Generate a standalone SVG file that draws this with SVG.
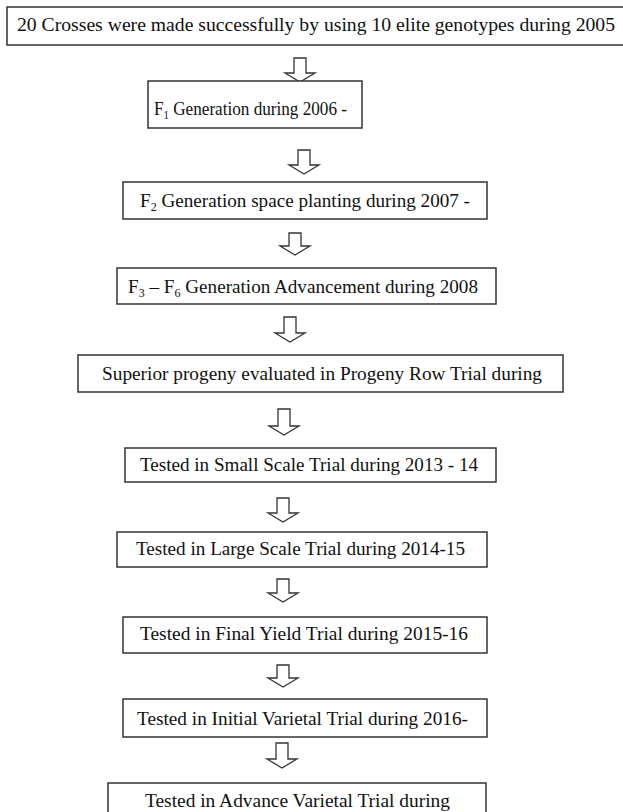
<svg xmlns="http://www.w3.org/2000/svg" width="623" height="812" viewBox="0 0 623 812">
<style>
.box{fill:#fff;stroke:#333;stroke-width:1.5}
.arr{fill:#fff;stroke:#333;stroke-width:1.3;stroke-linejoin:miter}
.t{font-family:"Liberation Serif","Times New Roman",serif;font-size:19px;fill:#111}
.sub{font-size:12px}
</style>
<rect width="623" height="812" fill="#fff"/>
<g id="connectors">
<path class="arr" d="M294,58 H306 V73 H315 L300,82 L285,73 H294 Z"/>
<path class="arr" d="M298,150 H310 V165 H319 L304,174 L289,165 H298 Z"/>
<path class="arr" d="M289,233 H301 V246 H310 L295,255 L280,246 H289 Z"/>
<path class="arr" d="M284,317 H296 V333 H305 L290,342 L275,333 H284 Z"/>
<path class="arr" d="M278,409 H290 V426 H299 L284,435 L269,426 H278 Z"/>
<path class="arr" d="M277,498 H289 V513 H298 L283,522 L268,513 H277 Z"/>
<path class="arr" d="M277,579 H289 V593 H298 L283,602 L268,593 H277 Z"/>
<path class="arr" d="M277,665 H289 V678 H298 L283,687 L268,678 H277 Z"/>
<path class="arr" d="M276,743 H288 V759 H297 L282,768 L267,759 H276 Z"/>
</g>
<g id="n1">
<rect class="box" x="7" y="7" width="630" height="38"/>
<text class="t" x="17" y="31" textLength="598" lengthAdjust="spacingAndGlyphs">20 Crosses were made successfully by using 10 elite genotypes during 2005</text>
</g>
<g id="n2">
<rect class="box" x="148" y="81" width="214" height="47"/>
<text class="t" x="154" y="115" textLength="193" lengthAdjust="spacingAndGlyphs">F<tspan class="sub" dy="4">1</tspan><tspan dy="-4"> Generation during 2006 -</tspan></text>
</g>
<g id="n3">
<rect class="box" x="123" y="182" width="364" height="37"/>
<text class="t" x="140" y="207" textLength="330" lengthAdjust="spacingAndGlyphs">F<tspan class="sub" dy="4">2</tspan><tspan dy="-4"> Generation space planting during 2007 -</tspan></text>
</g>
<g id="n4">
<rect class="box" x="117" y="268" width="379" height="36"/>
<text class="t" x="128" y="293" textLength="350" lengthAdjust="spacingAndGlyphs">F<tspan class="sub" dy="4">3</tspan><tspan dy="-4"> – F</tspan><tspan class="sub" dy="4">6</tspan><tspan dy="-4"> Generation Advancement during 2008</tspan></text>
</g>
<g id="n5">
<rect class="box" x="78" y="355" width="485" height="37"/>
<text class="t" x="102" y="380" textLength="440" lengthAdjust="spacingAndGlyphs">Superior progeny evaluated in Progeny Row Trial during</text>
</g>
<g id="n6">
<rect class="box" x="125" y="448" width="371" height="34"/>
<text class="t" x="140" y="471" textLength="338" lengthAdjust="spacingAndGlyphs">Tested in Small Scale Trial during 2013 - 14</text>
</g>
<g id="n7">
<rect class="box" x="117" y="532" width="370" height="35"/>
<text class="t" x="136" y="555" textLength="329" lengthAdjust="spacingAndGlyphs">Tested in Large Scale Trial during 2014-15</text>
</g>
<g id="n8">
<rect class="box" x="123" y="617" width="364" height="36"/>
<text class="t" x="140" y="640" textLength="328" lengthAdjust="spacingAndGlyphs">Tested in Final Yield Trial during 2015-16</text>
</g>
<g id="n9">
<rect class="box" x="123" y="699" width="364" height="38"/>
<text class="t" x="137" y="725" textLength="331" lengthAdjust="spacingAndGlyphs">Tested in Initial Varietal Trial during 2016-</text>
</g>
<g id="n10">
<rect class="box" x="108" y="783" width="378" height="40"/>
<text class="t" x="145" y="807" textLength="305" lengthAdjust="spacingAndGlyphs">Tested in Advance Varietal Trial during</text>
</g>
</svg>
